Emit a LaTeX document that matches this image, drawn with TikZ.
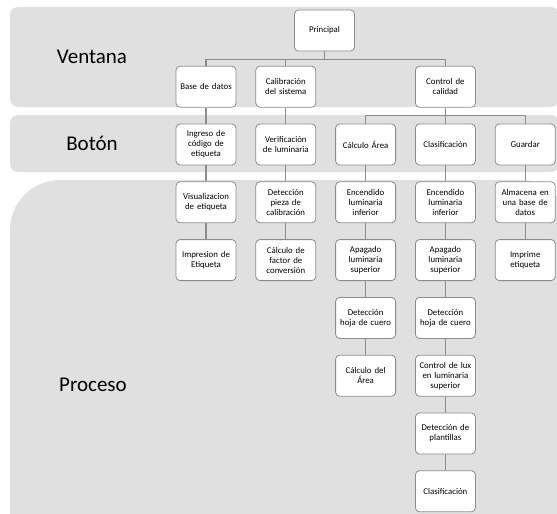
\documentclass[tikz,border=0pt]{standalone}
\usepackage{fontspec}
\setmainfont{Carlito}
\usetikzlibrary{positioning}
\definecolor{banda}{RGB}{224,224,224}
\definecolor{borde}{RGB}{140,140,140}

\begin{document}
\begin{tikzpicture}[x=1pt,y=-1pt,node distance=16pt and 19pt,
caja/.style={draw=borde,line width=.8pt,rounded corners=4pt,fill=white,align=center,text width=54pt,inner sep=3pt,minimum height=41pt,font=\fontsize{8.8}{10}\selectfont},
fondo/.style={fill=banda,rounded corners=8pt},
rot/.style={font=\fontsize{21}{24}\selectfont},
lin/.style={draw=borde,line width=1.2pt}]
\useasboundingbox (0,0) rectangle (557,514);
\clip (0,0) rectangle (557,514);
\fill[fondo] (10,7) rectangle (559,107);
\fill[fondo] (10,115) rectangle (559,172);
\fill[fondo,rounded corners=50pt] (10,180) rectangle (570,560);
\node[rot](tv) at (92,57){Ventana};
\node[rot](tb) at (92,143){Botón};
\node[rot](tp) at (93,385){Proceso};
\node[caja](ing) at (206,144.5){Ingreso de\\código de\\etiqueta};
\node[caja,right=of ing](ver){Verificación\\de luminaria};
\node[caja,right=of ver](are){Cálculo Área};
\node[caja,right=of are](cla){Clasificación};
\node[caja,right=of cla](gua){Guardar};
\node[caja,above=of ing](bas){Base de datos};
\node[caja,above=of ver](csis){Calibración\\del sistema};
\node[caja,above=of cla](ctr){Control de\\calidad};
\node[caja](pri) at (324.5,30.5){Principal};
\node[caja,below=of ing](vis){Visualizacion\\de etiqueta};
\node[caja,below=of vis](imp){Impresion de\\Etiqueta};
\node[caja,below=of ver](det){Detección\\pieza de\\calibración};
\node[caja,below=of det](fac){Cálculo de\\factor de\\conversión};
\node[caja,below=of are](enc1){Encendido\\luminaria\\inferior};
\node[caja,below=of enc1](apa1){Apagado\\luminaria\\superior};
\node[caja,below=of apa1](hoj1){Detección\\hoja de cuero};
\node[caja,below=of hoj1](car){Cálculo del\\Área};
\node[caja,below=of cla](enc2){Encendido\\luminaria\\inferior};
\node[caja,below=of enc2](apa2){Apagado\\luminaria\\superior};
\node[caja,below=of apa2](hoj2){Detección\\hoja de cuero};
\node[caja,below=of hoj2](lux){Control de lux\\en luminaria\\superior};
\node[caja,below=of lux](pla){Detección de\\plantillas};
\node[caja,below=of pla](cla2){Clasificación};
\node[caja,below=of gua](alm){Almacena en\\una base de\\datos};
\node[caja,below=of alm](imr){Imprime\\etiqueta};
\foreach \h in {bas,csis,ctr}\draw[lin](pri.south)--++(0,8)-|(\h.north);
\foreach \h in {are,cla,gua}\draw[lin](ctr.south)--++(0,8)-|(\h.north);
\foreach \a/\b in {bas/ing,ing/vis,vis/imp,csis/ver,ver/det,det/fac,are/enc1,enc1/apa1,apa1/hoj1,hoj1/car,enc2/apa2,apa2/hoj2,hoj2/lux,lux/pla,pla/cla2,cla/enc2,gua/alm,alm/imr}
  \draw[lin](\a)--(\b);
\end{tikzpicture}
\end{document}
